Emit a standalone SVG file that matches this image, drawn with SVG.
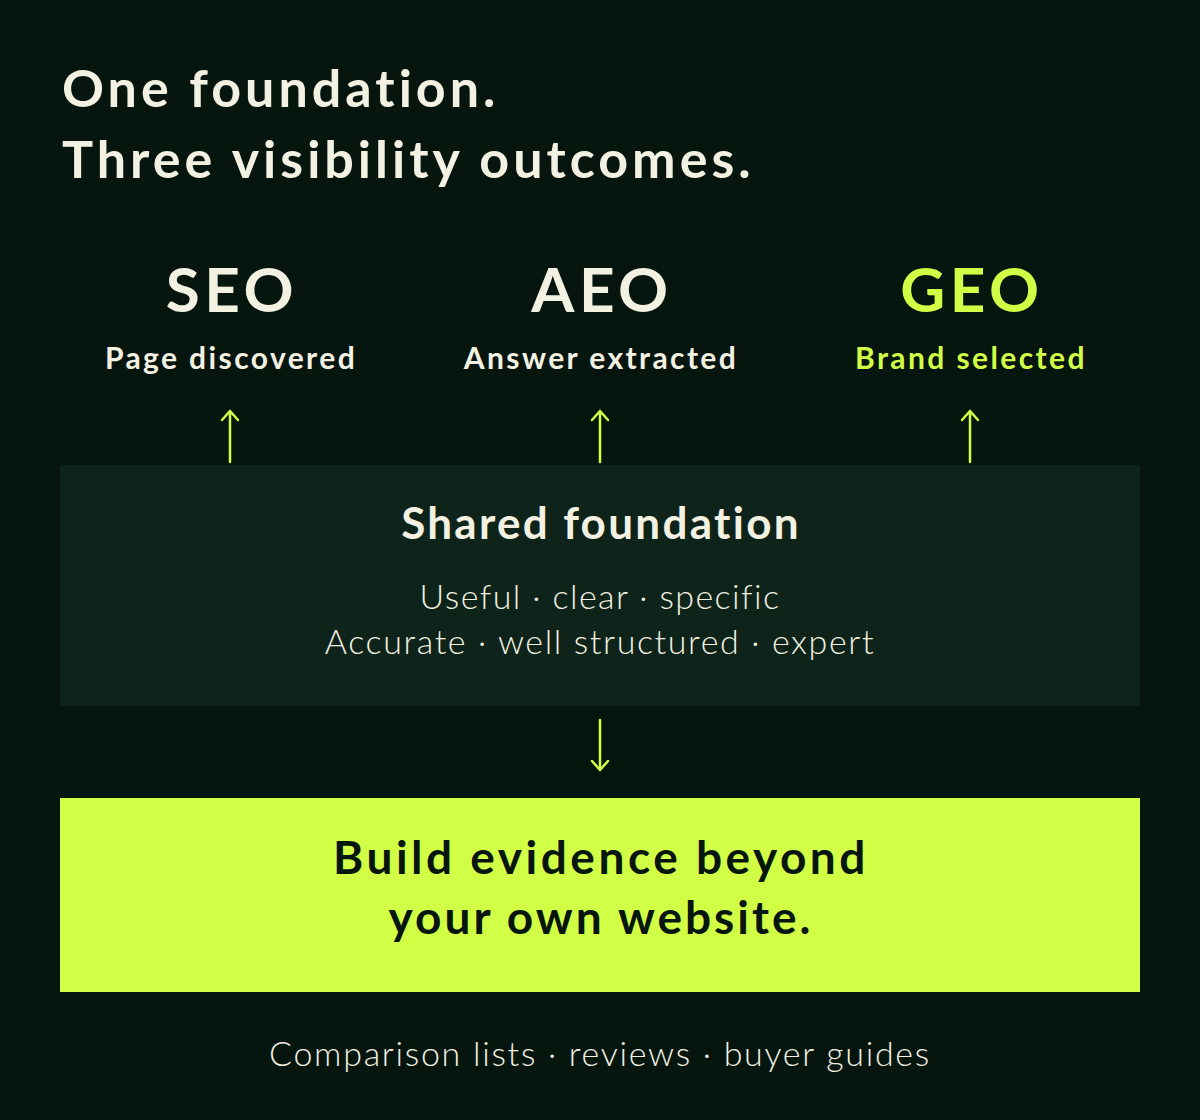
<svg xmlns="http://www.w3.org/2000/svg" width="1200" height="1120" viewBox="0 0 1200 1120">
<defs>
<style>
.t{font-family:"Lato","Noto Sans",sans-serif;}
.cream{fill:#f2f1e2;}
.lime{fill:#d0ff45;}
.dark{fill:#07150f;}
.b{font-weight:700;}
.l{font-weight:300;}
.arr{stroke:#d0ff45;stroke-width:2.5;fill:none;stroke-linecap:round;stroke-linejoin:round;}
</style>
</defs>
<rect x="0" y="0" width="1200" height="1120" fill="#07150f"/>
<g id="title">
<text class="t cream b" x="62" y="107" font-size="52" letter-spacing="4">One foundation.</text>
<text class="t cream b" x="62" y="178" font-size="52" letter-spacing="4">Three visibility outcomes.</text>
</g>
<g id="seo">
<text class="t cream b" x="232" y="312" font-size="62" letter-spacing="4.5" text-anchor="middle">SEO</text>
<text class="t cream b" x="231" y="369" font-size="30" letter-spacing="2.4" text-anchor="middle">Page discovered</text>
</g>
<g id="aeo">
<text class="t cream b" x="602" y="312" font-size="62" letter-spacing="4.5" text-anchor="middle">AEO</text>
<text class="t cream b" x="601" y="369" font-size="30" letter-spacing="2.4" text-anchor="middle">Answer extracted</text>
</g>
<g id="geo">
<text class="t lime b" x="972" y="312" font-size="62" letter-spacing="4.5" text-anchor="middle">GEO</text>
<text class="t lime b" x="971" y="369" font-size="30" letter-spacing="2.4" text-anchor="middle">Brand selected</text>
</g>
<g id="foundation">
<rect x="60" y="465" width="1080" height="241" fill="#0e2319"/>
<text class="t cream b" x="601" y="539" font-size="44" letter-spacing="2.3" text-anchor="middle">Shared foundation</text>
<text class="t cream l" x="600" y="609" font-size="34" letter-spacing="1.4" text-anchor="middle">Useful · clear · specific</text>
<text class="t cream l" x="600" y="654" font-size="34" letter-spacing="1.6" text-anchor="middle">Accurate · well structured · expert</text>
</g>
<g id="evidence">
<rect x="60" y="798" width="1080" height="194" fill="#d0ff45"/>
<text class="t dark b" x="601" y="874" font-size="46" letter-spacing="3.5" text-anchor="middle">Build evidence beyond</text>
<text class="t dark b" x="601" y="934" font-size="46" letter-spacing="3" text-anchor="middle">your own website.</text>
</g>
<g id="sources">
<text class="t cream l" x="600" y="1066" font-size="34" letter-spacing="1.7" text-anchor="middle">Comparison lists · reviews · buyer guides</text>
</g>
<g id="connectors">
<path class="arr" d="M230 462 V411 M222 420 L230 411 L238 420"/>
<path class="arr" d="M600 462 V411 M592 420 L600 411 L608 420"/>
<path class="arr" d="M970 462 V411 M962 420 L970 411 L978 420"/>
<path class="arr" d="M600 720 V770 M592 761 L600 770 L608 761"/>
</g>
</svg>
